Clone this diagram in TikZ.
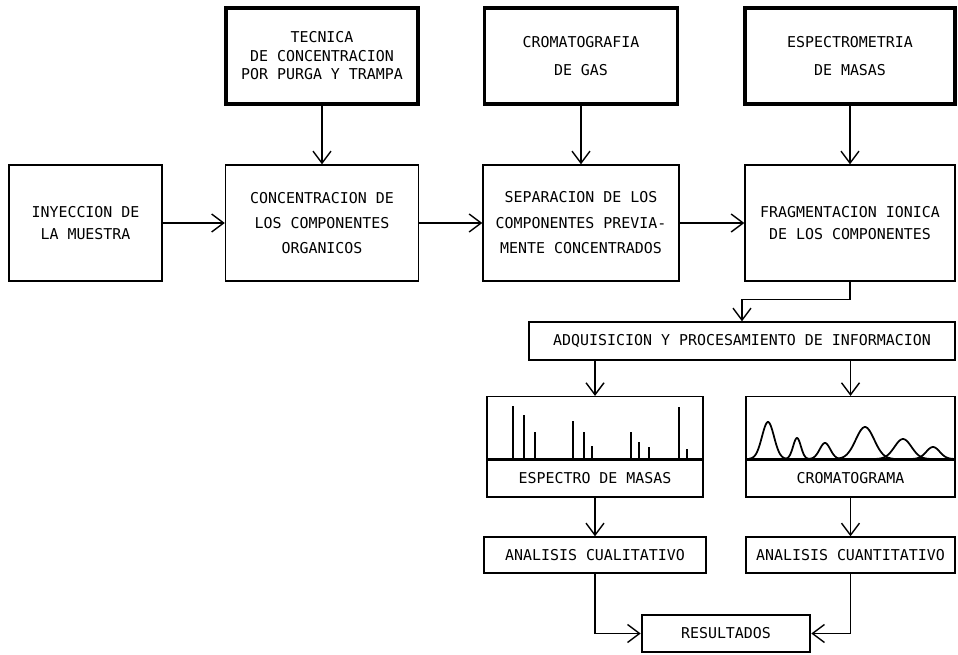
\documentclass[tikz,border=0pt]{standalone}
\usepackage{fontspec}
\setmonofont{DejaVu Sans Mono}
\usetikzlibrary{arrows.meta}

\tikzset{
  box/.style={draw, line width=0.8pt, align=center, inner sep=0pt,
    font=\ttfamily\fontsize{8.5}{14}\selectfont},
  bigbox/.style={box, line width=2.2pt},
  arr/.style={line width=0.8pt, -{Straight Barb[length=2.4mm,width=3.6mm]}},
  bar/.style={line width=1pt},
}

\begin{document}
\begin{tikzpicture}[x=0.02cm, y=-0.02cm]
    \useasboundingbox (0,0) rectangle (958,654);

    %Tecnicas
    \node[bigbox, minimum width=3.84cm, minimum height=1.92cm] (tec) at (322,56)
        {TECNICA\\[-3.5pt] DE CONCENTRACION\\[-3.5pt] POR PURGA Y TRAMPA};
    \node[bigbox, minimum width=3.86cm, minimum height=1.92cm] (crom) at (581,56)
        {CROMATOGRAFIA\\[2pt] DE GAS};
    \node[bigbox, minimum width=4.2cm, minimum height=1.92cm] (espm) at (850,56)
        {ESPECTROMETRIA\\[2pt] DE MASAS};

    %Etapas
    \node[box, minimum width=3.06cm, minimum height=2.32cm] (iny) at (85.5,223)
        {INYECCION DE\\[-1pt] LA MUESTRA};
    \node[box, minimum width=3.86cm, minimum height=2.32cm] (conc) at (322,223)
        {CONCENTRACION DE\\ LOS COMPONENTES\\ ORGANICOS};
    \node[box, minimum width=3.92cm, minimum height=2.32cm] (sep) at (581,223)
        {SEPARACION DE LOS\\[0.5pt] COMPONENTES PREVIA-\\[0.5pt] MENTE CONCENTRADOS};
    \node[box, minimum width=4.2cm, minimum height=2.32cm] (frag) at (850,223)
        {FRAGMENTACION IONICA\\[-1.5pt] DE LOS COMPONENTES};

    \node[box, minimum width=8.52cm, minimum height=0.76cm] (adq) at (742,341)
        {ADQUISICION Y PROCESAMIENTO DE INFORMACION};

    %Espectro y cromatograma
    \node[box, minimum width=4.32cm, minimum height=0.74cm] (esplab) at (595,478.5)
        {ESPECTRO DE MASAS};
    \node[box, minimum width=4.32cm, minimum height=1.24cm, anchor=south] (espplot)
        at (esplab.north) {};
    \node[box, minimum width=4.18cm, minimum height=0.74cm] (cromlab) at (850.5,478.5)
        {CROMATOGRAMA};
    \node[box, minimum width=4.18cm, minimum height=1.24cm, anchor=south] (cromplot)
        at (cromlab.north) {};
    \draw[line width=1.6pt] (espplot.south west) -- (espplot.south east);
    \draw[line width=1.6pt] (cromplot.south west) -- (cromplot.south east);

    \foreach \xb/\yt in {513/406, 524/415, 535/432, 573/421, 584/432, 592/446,
                         631/432, 639/442, 649/447, 679/407, 687/449}
        \draw[bar] (\xb,459) -- (\xb,\yt);

    \foreach \c/\h/\s [evaluate=\c as \a using \c-2.2*\s,
                       evaluate=\c as \b using \c+2.2*\s] in
        {768/37/8.5, 797/21/5.5, 825/16/7.5, 865/32/13, 903/20/12, 933/12/9.5}
        \draw[bar] plot[domain=\a:\b, samples=40, smooth]
            (\x, {459 - \h*exp(-((\x-\c)/\s)^2)});

    \node[box, minimum width=4.44cm, minimum height=0.72cm] (cual) at (595,555)
        {ANALISIS CUALITATIVO};
    \node[box, minimum width=4.18cm, minimum height=0.72cm] (cuant) at (850.5,555)
        {ANALISIS CUANTITATIVO};
    \node[box, line width=1.5pt, minimum width=3.36cm, minimum height=0.74cm] (res)
        at (726,633.5) {RESULTADOS};

    %Flechas
    \draw[arr] (tec) -- (conc);
    \draw[arr] (crom) -- (sep);
    \draw[arr] (espm) -- (frag);
    \draw[arr] (iny) -- (conc);
    \draw[arr] (conc) -- (sep);
    \draw[arr] (sep) -- (frag);
    \draw[arr] (frag.south) -- ++(0,18) -| (adq.north);
    \draw[arr] (adq.south -| espplot.north) -- (espplot.north);
    \draw[arr] (adq.south -| cromplot.north) -- (cromplot.north);
    \draw[arr] (esplab) -- (cual);
    \draw[arr] (cromlab) -- (cuant);
    \draw[arr] (cual.south) |- (res.west);
    \draw[arr] (cuant.south) |- (res.east);
\end{tikzpicture}
\end{document}
